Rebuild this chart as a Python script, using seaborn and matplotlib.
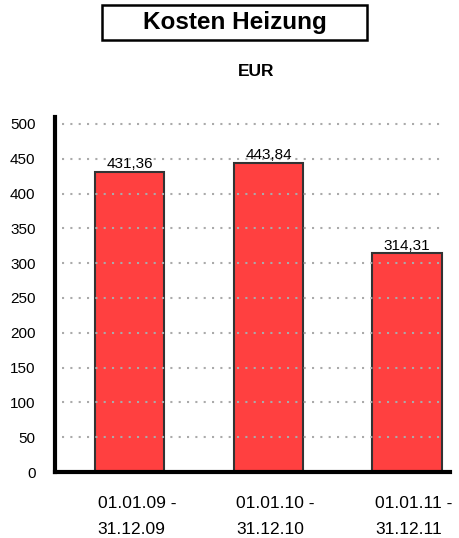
import matplotlib
matplotlib.use("Agg")
import matplotlib.pyplot as plt
from matplotlib.patches import Rectangle
from matplotlib.transforms import ScaledTranslation
import seaborn as sns
import pandas as pd

# ── Data ──────────────────────────────────────────────────────────────────────
periods = ["01.01.09 -\n31.12.09", "01.01.10 -\n31.12.10", "01.01.11 -\n31.12.11"]
costs = [431.36, 443.84, 314.31]
yticks = [0, 50, 100, 150, 200, 250, 300, 350, 400, 450, 500]

df = pd.DataFrame({"period": periods, "cost": costs})

# ── Style ─────────────────────────────────────────────────────────────────────
sns.set_theme(style="white")
plt.rcParams["font.family"] = ["Liberation Sans", "DejaVu Sans"]
plt.rcParams["text.color"] = "black"
plt.rcParams["xtick.color"] = "black"
plt.rcParams["ytick.color"] = "black"

fig = plt.figure(figsize=(4.6, 5.38), dpi=100)
ax = fig.add_axes([55 / 460, 66 / 538, 395 / 460, 355 / 538])

sns.barplot(data=df, x="period", y="cost", ax=ax, color="#ff4040",
            saturation=1, width=0.5, edgecolor="#333333", linewidth=1.5,
            zorder=2)

# dotted grid drawn over the bars
for y in yticks[1:]:
    ax.axhline(y, xmin=0.018, xmax=0.98, color="#aaaaaa",
               linestyle=(0, (1, 3)), linewidth=1.5, zorder=3)

# value labels
for i, v in enumerate(costs):
    ax.text(i, v + 1, f"{v:.2f}".replace(".", ","), ha="center", va="bottom",
            fontsize=11, zorder=4)

ax.set_xlim(-0.54, 2.31)
ax.set_ylim(0, 510)
ax.set_yticks(yticks)
ax.set_xlabel("")
ax.set_ylabel("")
ax.tick_params(axis="y", length=0, pad=14, labelsize=11)
ax.tick_params(axis="x", length=0, pad=17.5, labelsize=12.5)
shift = ScaledTranslation(7 / 100, 0, fig.dpi_scale_trans)
for lbl in ax.get_xticklabels():
    lbl.set_multialignment("left")
    lbl.set_linespacing(1.85)
    lbl.set_transform(lbl.get_transform() + shift)

for side in ["top", "right"]:
    ax.spines[side].set_visible(False)
for side in ["left", "bottom"]:
    ax.spines[side].set_color("black")
    ax.spines[side].set_linewidth(3)

# title box
fig.patches.append(Rectangle((102 / 460, 1 - 40 / 538), 265 / 460, 35 / 538,
                             transform=fig.transFigure, fill=False,
                             edgecolor="black", linewidth=1.8))
fig.text(234.5 / 460, 1 - 23 / 538, "Kosten Heizung", ha="center", va="center",
         fontsize=17.5, fontweight="bold")
fig.text(256 / 460, 1 - 72 / 538, "EUR", ha="center", va="center",
         fontsize=12.5, fontweight="bold")

fig.savefig("out.png", dpi=100)
